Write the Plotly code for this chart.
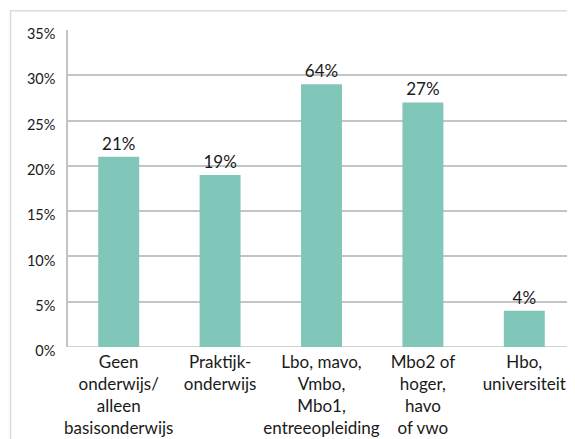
import plotly.graph_objects as go

categories = [
    "Geen<br>onderwijs/<br>alleen<br>basisonderwijs",
    "Praktijk-<br>onderwijs",
    "Lbo, mavo,<br>Vmbo,<br>Mbo1,<br>entreeopleiding",
    "Mbo2 of<br>hoger,<br>havo<br>of vwo",
    "Hbo,<br>universiteit",
]
values = [21, 19, 29, 27, 4]
bar_labels = ["21%", "19%", "64%", "27%", "4%"]
y_ticks = [0, 5, 10, 15, 20, 25, 30, 35]
y_tick_labels = ["0%", "5%", "10%", "15%", "20%", "25%", "30%", "35%"]

FONT = "Lato, 'Open Sans', sans-serif"

fig = go.Figure(
    go.Bar(
        x=categories,
        y=values,
        text=bar_labels,
        textposition="outside",
        textfont=dict(family=FONT, size=17, color="#1a1a1a"),
        marker=dict(color="#80c7ba", line=dict(width=0)),
        width=0.404,
        cliponaxis=False,
        hoverinfo="skip",
    )
)

# The page body has an 8px default margin, so margins are compensated.
fig.update_layout(
    width=575,
    height=439,
    margin=dict(l=60, r=7.5, t=21.5, b=99.5),
    paper_bgcolor="white",
    plot_bgcolor="white",
    showlegend=False,
    font=dict(family=FONT, color="#1a1a1a"),
    xaxis=dict(
        showgrid=False,
        showline=False,
        ticks="",
        automargin=False,
        ticklabelstandoff=3,
        tickfont=dict(family=FONT, size=17, color="#1a1a1a"),
        range=[-0.5, 4.5],
        fixedrange=True,
    ),
    yaxis=dict(
        range=[0, 35],
        tickvals=y_ticks,
        ticktext=y_tick_labels,
        showgrid=True,
        gridcolor="#c4c4c4",
        gridwidth=1.5,
        zeroline=False,
        showline=True,
        linecolor="#c4c4c4",
        linewidth=1.5,
        ticks="",
        automargin=False,
        ticklabelstandoff=8,
        ticklabelshift=4,
        tickfont=dict(family=FONT, size=14.5, color="#1a1a1a"),
        fixedrange=True,
    ),
    shapes=[
        dict(
            type="rect",
            xref="paper",
            yref="paper",
            x0=-0.1133,
            x1=1.2,
            y0=-0.6,
            y1=1.0604,
            line=dict(color="#dcdcdc", width=1.5),
            fillcolor="rgba(0,0,0,0)",
            layer="below",
        ),
        dict(
            type="line",
            xref="paper",
            yref="y",
            x0=0,
            x1=1,
            y0=0,
            y1=0,
            line=dict(color="#c4c4c4", width=1.5),
            layer="below",
        ),
    ],
)

fig.write_html("out.html")
